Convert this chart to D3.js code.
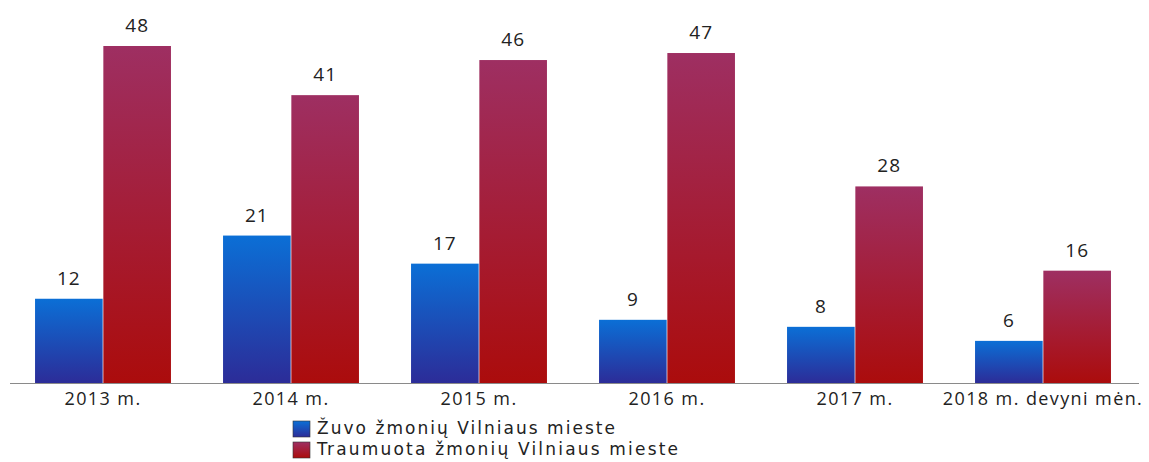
<!DOCTYPE html>
<html>
<head>
<meta charset="utf-8">
<script src="https://cdn.jsdelivr.net/npm/d3@7"></script>
<style>
  body { margin: 0; background: #fff; }
  text { font-family: "Open Sans", "Noto Sans", sans-serif; }
</style>
</head>
<body>
<div id="chart"></div>
<script>
const categories = ["2013 m.", "2014 m.", "2015 m.", "2016 m.", "2017 m.", "2018 m. devyni mėn."];
const seriesNames = ["Žuvo žmonių Vilniaus mieste", "Traumuota žmonių Vilniaus mieste"];
const killed = [12, 21, 17, 9, 8, 6];
const injured = [48, 41, 46, 47, 28, 16];

const width = 1149, height = 462;
const baseY = 383;

const svg = d3.select("#chart").append("svg")
    .attr("width", width)
    .attr("height", height);

// gradients, one per series, per bar box
const defs = svg.append("defs");
const grads = [
    {id: "gBlue", top: "#0b6fd6", bottom: "#2c2c98"},
    {id: "gRed", top: "#9e2f62", bottom: "#ab0c0c"}
];
grads.forEach(g => {
    const lg = defs.append("linearGradient")
        .attr("id", g.id)
        .attr("x1", 0).attr("y1", 0).attr("x2", 0).attr("y2", 1);
    lg.append("stop").attr("offset", "0%").attr("stop-color", g.top);
    lg.append("stop").attr("offset", "100%").attr("stop-color", g.bottom);
});

const x = d3.scaleBand()
    .domain(categories)
    .range([9, 1137])
    .paddingInner(0.277)
    .paddingOuter(0.1385);

const x1 = d3.scaleBand()
    .domain([0, 1])
    .range([0, x.bandwidth()])
    .paddingInner(0.01);

const y = d3.scaleLinear()
    .domain([0, 48])
    .range([baseY, 46]);

const rows = categories.map((c, i) => ({cat: c, vals: [killed[i], injured[i]]}));

const group = svg.append("g").selectAll("g")
    .data(rows)
    .enter().append("g")
    .attr("transform", d => `translate(${x(d.cat)},0)`);

group.selectAll("rect")
    .data(d => d.vals.map((v, k) => ({v, k})))
    .enter().append("rect")
    .attr("x", d => x1(d.k))
    .attr("y", d => y(d.v))
    .attr("width", x1.bandwidth())
    .attr("height", d => baseY - y(d.v))
    .attr("fill", d => `url(#${grads[d.k].id})`);

group.selectAll("text.val")
    .data(d => d.vals.map((v, k) => ({v, k})))
    .enter().append("text")
    .attr("class", "val")
    .attr("x", d => x1(d.k) + x1.bandwidth() / 2)
    .attr("y", d => y(d.v) - 14)
    .attr("text-anchor", "middle")
    .style("font-size", "19px")
    .style("letter-spacing", "1px")
    .style("fill", "#222")
    .text(d => d.v);

// x axis
const xAxis = svg.append("g")
    .attr("transform", `translate(0,${baseY})`)
    .call(d3.axisBottom(x).tickSize(0).tickPadding(9));
xAxis.select(".domain").attr("d", "M10,0.5H1139").attr("stroke", "#8a8a8a");
xAxis.selectAll("text")
    .style("font-size", "18px")
    .style("letter-spacing", "1.4px")
    .style("fill", "#222")
    .style("font-family", "'Open Sans', 'Noto Sans', sans-serif");

// legend
const legendWidths = [298, 361];
const legend = svg.append("g").attr("transform", "translate(293,421)");
seriesNames.forEach((name, k) => {
    const row = legend.append("g").attr("transform", `translate(0,${k * 21})`);
    row.append("rect")
        .attr("y", 0)
        .attr("width", 17).attr("height", 16)
        .attr("fill", `url(#${grads[k].id})`)
        .attr("stroke", "#333").attr("stroke-width", 0.6);
    row.append("text")
        .attr("x", 24).attr("y", 13)
        .attr("textLength", legendWidths[k])
        .attr("lengthAdjust", "spacing")
        .style("font-family", "'DejaVu Sans', sans-serif")
        .style("font-size", "17px")
        .style("fill", "#222")
        .text(name);
});
</script>
</body>
</html>
